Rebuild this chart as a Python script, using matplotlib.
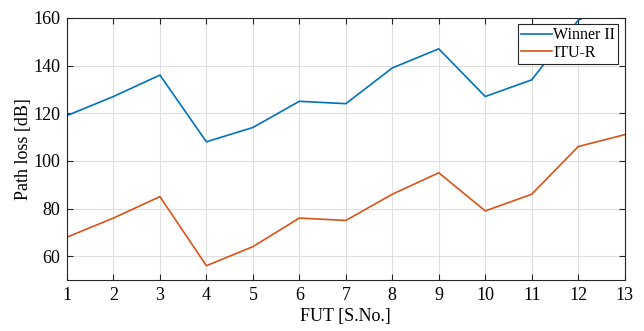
import matplotlib
matplotlib.use("Agg")
import matplotlib.pyplot as plt

fut = list(range(1, 14))
winner2 = [119, 127, 136, 108, 114, 125, 124, 139, 147, 127, 134, 159, 168]
itur = [68, 76, 85, 56, 64, 76, 75, 86, 95, 79, 86, 106, 111]
xticks = list(range(1, 14))
yticks = [60, 80, 100, 120, 140, 160]

plt.rcParams['font.family'] = ['Liberation Serif', 'DejaVu Serif']
plt.rcParams['mathtext.fontset'] = 'stix'

fig = plt.figure(figsize=(6.44, 3.31), dpi=100)
ax = fig.add_axes([0.104, 0.154, 0.866, 0.792])

ax.plot(fut, winner2, color=(0, 0.447, 0.741), lw=1.2, label='Winner II')
ax.plot(fut, itur, color=(0.85, 0.325, 0.098), lw=1.2, label='ITU-R')

ax.set_xlim(1, 13)
ax.set_ylim(50, 160)
ax.set_xticks(xticks)
ax.set_yticks(yticks)
ax.tick_params(direction='in', top=True, right=True, labelsize=13, length=4, width=0.8, color='#262626', pad=5)
ax.grid(True, color='#dfdfdf', lw=0.8)
ax.set_axisbelow(True)
for s in ax.spines.values():
    s.set_color('#262626')
    s.set_linewidth(0.8)

ax.set_xlabel('FUT [S.No.]', fontsize=13, labelpad=3)
ax.set_ylabel('Path loss [dB]', fontsize=13, labelpad=1)

leg = ax.legend(loc='upper right', fontsize=11.5, frameon=True, fancybox=False,
                edgecolor='#262626', framealpha=1, handlelength=1.9, handletextpad=0.1,
                borderpad=0.2, labelspacing=0.1, borderaxespad=0.4)
leg.get_frame().set_linewidth(0.8)

fig.savefig('out.png', dpi=100)
